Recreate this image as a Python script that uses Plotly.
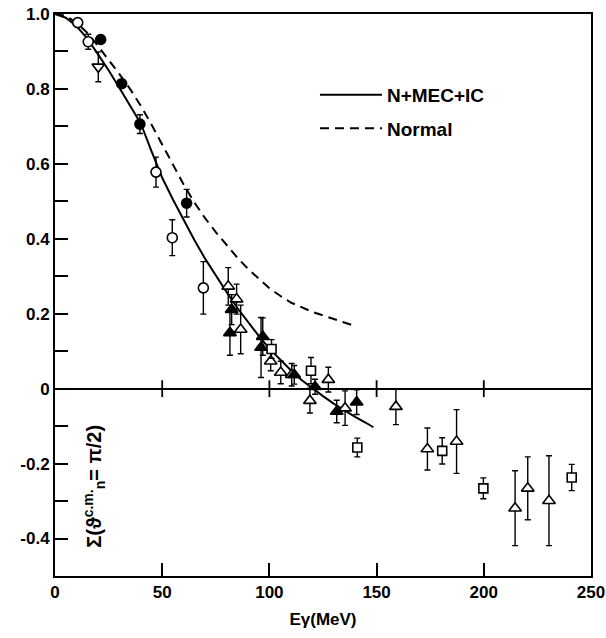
import plotly.graph_objects as go

# ---- data ----
curve_x = [0, 5, 10, 15, 20, 25, 30, 35, 40, 45, 50, 55, 60, 65, 70, 75, 80, 85, 90, 95,
           100, 105, 110, 115, 120, 125, 130, 135, 140, 145, 148.5]
mec_y = [1.0, 0.99, 0.968, 0.935, 0.893, 0.85, 0.803, 0.757, 0.708, 0.634, 0.563, 0.505,
         0.45, 0.397, 0.347, 0.302, 0.258, 0.216, 0.177, 0.141, 0.107, 0.077, 0.049, 0.023,
         0.001, -0.02, -0.04, -0.058, -0.075, -0.091, -0.103]
normal_x = [0, 5, 10, 15, 20, 25, 30, 35, 40, 45, 50, 55, 60, 65, 70, 75, 80, 85, 90, 95,
            100, 105, 110, 120, 130, 140]
normal_y = [1.0, 0.995, 0.977, 0.95, 0.915, 0.878, 0.84, 0.8, 0.755, 0.705, 0.652, 0.598,
            0.545, 0.497, 0.455, 0.418, 0.383, 0.35, 0.32, 0.293, 0.268, 0.248, 0.23, 0.205,
            0.185, 0.167]

open_circle_x = [10.6, 15.5, 47.1, 54.7, 69.2]
open_circle_y = [0.977, 0.926, 0.578, 0.403, 0.269]
open_circle_err = [0.0, 0.02, 0.04, 0.048, 0.07]

filled_circle_x = [21.3, 31.1, 39.6, 61.4]
filled_circle_y = [0.932, 0.814, 0.706, 0.495]
filled_circle_err = [0.0, 0.0, 0.025, 0.037]

down_tri_x = [20.2]
down_tri_y = [0.859]
down_tri_err = [0.04]

open_tri_x = [80.8, 84.7, 86.6, 100.6, 105.3, 110.4, 118.9, 127.5, 135.3, 159.0,
              173.7, 187.3, 214.6, 220.5, 230.4]
open_tri_y = [0.273, 0.239, 0.158, 0.073, 0.043, 0.037, -0.032, 0.024, -0.052, -0.048,
              -0.161, -0.141, -0.319, -0.266, -0.299]
open_tri_err = [0.05, 0.04, 0.065, 0.025, 0.03, 0.03, 0.033, 0.033, 0.046, 0.048,
                0.056, 0.085, 0.1, 0.084, 0.12]

filled_tri_x = [81.6, 82.4, 96.9, 96.1, 111.6, 121.3, 131.4, 140.7]
filled_tri_y = [0.149, 0.211, 0.139, 0.11, 0.037, 0.005, -0.061, -0.036]
filled_tri_err = [0.06, 0.04, 0.05, 0.08, 0.025, 0.02, 0.03, 0.033]

square_x = [101.0, 119.4, 141.0, 180.6, 199.8, 241.0]
square_y = [0.106, 0.048, -0.157, -0.166, -0.266, -0.237]
square_err = [0.025, 0.035, 0.025, 0.035, 0.028, 0.035]

x_tick_vals = [0, 50, 100, 150, 200, 250]
x_tick_text = ["0", "50", "100", "150", "200", "250"]
zero_line_ticks = [50, 100, 150, 200]
y_tick_vals = [-0.4, -0.2, 0, 0.2, 0.4, 0.6, 0.8, 1.0]
y_tick_text = ["-0.4", "-0.2", "0", "0.2", "0.4", "0.6", "0.8", "1.0"]
y_minor_vals = [-0.3, -0.1, 0.1, 0.3, 0.5, 0.7, 0.9]

FONT = "Liberation Sans, Arial, Helvetica, sans-serif"
BLACK = "black"

fig = go.Figure()

fig.add_trace(go.Scatter(x=curve_x, y=mec_y, mode="lines", name="N+MEC+IC",
                         line=dict(color=BLACK, width=2), legendgroup="a"))
fig.add_trace(go.Scatter(x=normal_x, y=normal_y, mode="lines", name="Normal",
                         line=dict(color=BLACK, width=2, dash="9px,6px"), legendgroup="b"))


def pts(x, y, err, symbol, size, filled):
    fig.add_trace(go.Scatter(
        x=x, y=y, mode="markers", showlegend=False,
        error_y=dict(type="data", array=err, visible=True, color=BLACK, thickness=1.4, width=3),
        marker=dict(symbol=symbol, size=size,
                    color=BLACK if filled else "white",
                    line=dict(color=BLACK, width=1.6))))


pts(open_circle_x, open_circle_y, open_circle_err, "circle", 10, False)
pts(filled_circle_x, filled_circle_y, filled_circle_err, "circle", 10, True)
pts(down_tri_x, down_tri_y, down_tri_err, "triangle-down", 11, False)
pts(open_tri_x, open_tri_y, open_tri_err, "triangle-up", 11, False)
pts(filled_tri_x, filled_tri_y, filled_tri_err, "triangle-up", 11, True)
pts(square_x, square_y, square_err, "square", 9, False)

# tick marks crossing the zero line
fig.add_trace(go.Scatter(x=zero_line_ticks, y=[0] * len(zero_line_ticks), mode="markers",
                         showlegend=False, hoverinfo="skip",
                         marker=dict(symbol="line-ns", size=12,
                                     line=dict(color=BLACK, width=1.8))))

fig.add_annotation(x=18, y=-0.26, xref="x", yref="y", textangle=-90, showarrow=False,
                   text="Σ(ϑ<sup>c.m.</sup><sub>n</sub>= π/2)",
                   font=dict(family=FONT, size=20, color=BLACK, weight="bold"))

fig.update_layout(
    width=606, height=638,
    margin=dict(l=55, r=15, t=14, b=62, autoexpand=False),
    paper_bgcolor="white", plot_bgcolor="white",
    font=dict(family=FONT, color=BLACK),
    showlegend=True,
    legend=dict(x=0.485, y=0.89, xanchor="left", yanchor="top",
                bgcolor="rgba(0,0,0,0)", traceorder="grouped", tracegroupgap=6,
                font=dict(family=FONT, size=19, color=BLACK, weight="bold"),
                itemwidth=62),
    xaxis=dict(range=[0, 250], tickmode="array", tickvals=x_tick_vals, ticktext=x_tick_text,
               ticks="inside", ticklen=13, tickwidth=2, tickcolor=BLACK,
               showline=True, linewidth=2, linecolor=BLACK, mirror=True, automargin=False,
               showgrid=False, zeroline=False, ticklabeloverflow="allow",
               tickfont=dict(family=FONT, size=17, color=BLACK, weight="bold"),
               title=dict(text="Eγ(MeV)", standoff=12,
                          font=dict(family=FONT, size=17, color=BLACK, weight="bold"))),
    yaxis=dict(range=[-0.5, 1.0], tickmode="array", tickvals=y_tick_vals, ticktext=y_tick_text,
               ticks="inside", ticklen=13, tickwidth=2, tickcolor=BLACK,
               minor=dict(tickmode="array", tickvals=y_minor_vals, ticks="inside",
                          ticklen=13, tickwidth=2, tickcolor=BLACK, showgrid=False),
               showline=True, linewidth=2, linecolor=BLACK, mirror=True, automargin=False,
               showgrid=False, zeroline=True, zerolinecolor=BLACK, zerolinewidth=1.5,
               ticklabeloverflow="allow",
               tickfont=dict(family=FONT, size=17, color=BLACK, weight="bold")),
)

# remove the default page margin so the figure fills the window exactly
fig.write_html("out.html", config={"displayModeBar": False},
               post_script="document.body.style.margin='0px';")
